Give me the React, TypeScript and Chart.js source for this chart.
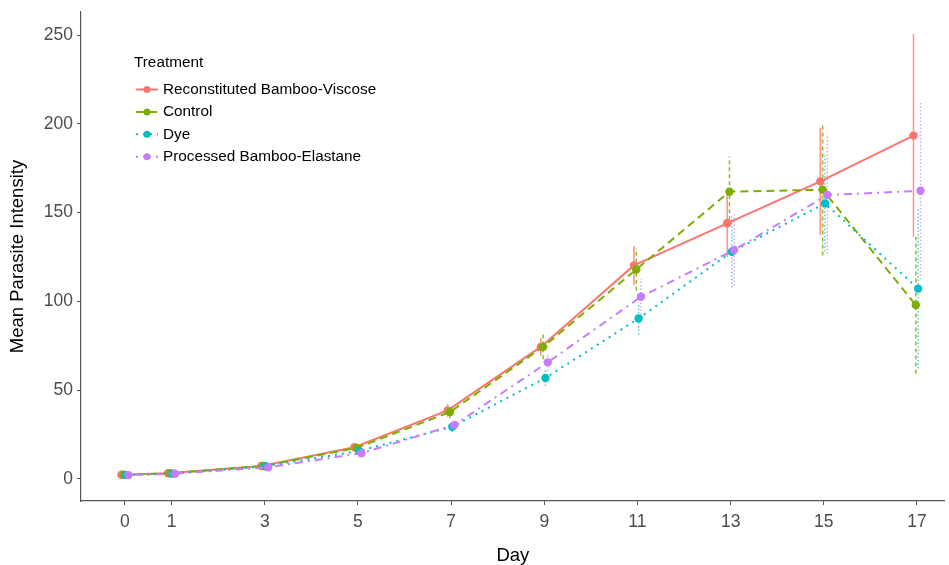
import React, { useEffect, useRef } from "react";
import { Chart, registerables } from "chart.js";

Chart.register(...registerables);

// ---- data ----
const days = [0, 1, 3, 5, 7, 9, 11, 13, 15, 17];
const xTickValues = [0, 1, 3, 5, 7, 9, 11, 13, 15, 17];
const yTickValues = [0, 50, 100, 150, 200, 250];

const seriesNames = [
  "Reconstituted Bamboo-Viscose",
  "Control",
  "Dye",
  "Processed Bamboo-Elastane",
];

const viscose = [2.4, 3.2, 7.3, 17.9, 38.6, 74.4, 120.3, 144.0, 167.6, 193.4];
const control = [2.4, 3.2, 7.3, 17.5, 37.7, 74.4, 118.0, 161.8, 162.9, 97.9];
const dye = [2.2, 3.0, 7.2, 15.8, 29.4, 56.9, 90.4, 128.0, 155.2, 107.2];
const elastane = [2.2, 3.0, 6.6, 14.5, 30.5, 65.7, 102.6, 129.0, 159.9, 162.3];

const viscoseErr = [0.5, 0.6, 1.0, 1.5, 3.5, 5, 11, 19, 30, 57];
const controlErr = [0.5, 0.6, 1.0, 1.5, 3.5, 7, 12, 20, 37, 38.5];
const dyeErr = [0.5, 0.6, 1.0, 1.5, 3.0, 4.5, 9, 20, 27, 45];
const elastaneErr = [0.5, 0.6, 1.0, 1.5, 3.0, 5, 10, 20, 33, 50];

const seriesValues = [viscose, control, dye, elastane];
const seriesErrors = [viscoseErr, controlErr, dyeErr, elastaneErr];

// ---- styles ----
const colors = ["#F8766D", "#7CAE00", "#00BFC4", "#C77CFF"];
const errColors = [
  "rgba(248,118,109,0.8)",
  "rgba(124,174,0,0.85)",
  "rgba(0,191,196,0.7)",
  "rgba(199,124,255,0.7)",
];
const lineDash: number[][] = [[], [8, 5], [2, 5], [2, 5, 8, 5]];
const errDash: number[][] = [[], [4, 3], [1.5, 2], [1.5, 2]];
const dodge = [-0.075, -0.025, 0.025, 0.075];

const FONT = '"Liberation Sans", Arial, Helvetica, sans-serif';

const legendPlugin = {
  id: "ggLegend",
  afterDraw(chart: any) {
    const ctx = chart.ctx as CanvasRenderingContext2D;
    ctx.save();
    ctx.font = `15.3px ${FONT}`;
    ctx.textBaseline = "middle";
    ctx.textAlign = "left";
    ctx.fillStyle = "#000";
    ctx.fillText("Treatment", 134, 63);
    seriesNames.forEach((name, i) => {
      const y = 89.5 + i * 22.4;
      ctx.strokeStyle = colors[i];
      ctx.lineWidth = 2;
      ctx.setLineDash(lineDash[i]);
      ctx.beginPath();
      ctx.moveTo(136, y);
      ctx.lineTo(158, y);
      ctx.stroke();
      ctx.setLineDash([]);
      ctx.fillStyle = colors[i];
      ctx.beginPath();
      ctx.arc(147, y, 3.5, 0, Math.PI * 2);
      ctx.fill();
      ctx.fillStyle = "#000";
      ctx.fillText(name, 163, y);
    });
    ctx.restore();
  },
};

export default function App() {
  const ref = useRef<HTMLCanvasElement | null>(null);

  useEffect(() => {
    if (!ref.current) return;

    const errorSets = seriesValues.map((vals, i) => {
      const pts: { x: number; y: number | null }[] = [];
      days.forEach((d, j) => {
        const x = d + dodge[i];
        pts.push({ x, y: vals[j] - seriesErrors[i][j] });
        pts.push({ x, y: vals[j] + seriesErrors[i][j] });
        pts.push({ x, y: null });
      });
      return {
        label: seriesNames[i] + " error",
        data: pts,
        borderColor: errColors[i],
        borderWidth: 1.5,
        borderDash: errDash[i],
        pointRadius: 0,
        spanGaps: false,
        fill: false,
        order: 20 - i,
      };
    });

    const lineSets = seriesValues.map((vals, i) => ({
      label: seriesNames[i],
      data: days.map((d, j) => ({ x: d + dodge[i], y: vals[j] })),
      borderColor: colors[i],
      backgroundColor: colors[i],
      borderWidth: 2,
      borderDash: lineDash[i],
      pointRadius: 4.2,
      pointBorderWidth: 0,
      pointBackgroundColor: colors[i],
      fill: false,
      tension: 0,
      order: 10 - i,
    }));

    const chart = new Chart(ref.current, {
      type: "line",
      data: { datasets: [...errorSets, ...lineSets] as any },
      plugins: [legendPlugin],
      options: {
        animation: false,
        responsive: false,
        devicePixelRatio: 1,
        layout: { padding: { top: 12, right: 0, bottom: 0, left: 0 } },
        plugins: {
          legend: { display: false },
          tooltip: { enabled: false },
        },
        scales: {
          x: {
            type: "linear",
            min: -0.944,
            max: 17.597,
            afterBuildTicks: (s: any) => {
              s.ticks = xTickValues.map((v) => ({ value: v }));
            },
            afterFit: (s: any) => {
              s.height = 64;
              s.paddingLeft = 0;
              s.paddingRight = 0;
            },
            grid: {
              display: true,
              drawOnChartArea: false,
              drawTicks: true,
              tickLength: 4,
              color: "#555",
              lineWidth: 1,
            },
            border: { display: true, color: "#555", width: 1.2 },
            ticks: {
              color: "#4D4D4D",
              font: { size: 17.5, family: FONT },
              padding: 7,
              maxRotation: 0,
              autoSkip: false,
            },
            title: {
              display: true,
              text: "Day",
              color: "#000",
              font: { size: 18.5, family: FONT, lineHeight: 1.0 },
              padding: { top: 0, bottom: 0 },
            },
          },
          y: {
            type: "linear",
            min: -12.4,
            max: 263.0,
            afterBuildTicks: (s: any) => {
              s.ticks = yTickValues.map((v) => ({ value: v }));
            },
            afterFit: (s: any) => {
              s.width = 81;
              s.paddingTop = 0;
              s.paddingBottom = 0;
            },
            grid: {
              display: true,
              drawOnChartArea: false,
              drawTicks: true,
              tickLength: 4,
              color: "#555",
              lineWidth: 1,
            },
            border: { display: true, color: "#555", width: 1.2 },
            ticks: {
              color: "#4D4D4D",
              font: { size: 17.5, family: FONT },
              padding: 4,
              autoSkip: false,
            },
            title: {
              display: true,
              text: "Mean Parasite Intensity",
              color: "#000",
              font: { size: 18.5, family: FONT },
              padding: { top: 7, bottom: 0 },
            },
          },
        },
      },
    });

    return () => chart.destroy();
  }, []);

  return (
    <div
      style={{
        position: "fixed",
        left: 0,
        top: 0,
        width: 949,
        height: 565,
        background: "#fff",
      }}
    >
      <canvas ref={ref} width={949} height={565} style={{ width: 949, height: 565 }} />
    </div>
  );
}
